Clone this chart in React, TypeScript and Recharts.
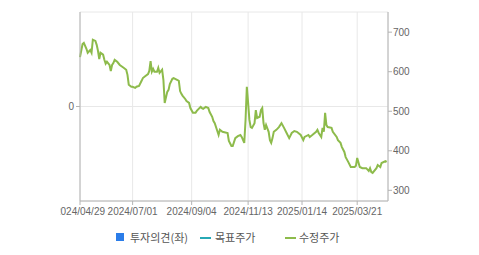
import React from "react";
import { ComposedChart, Line, Bar, XAxis, YAxis, CartesianGrid } from "recharts";

// trading-day index since 2024/04/29 and adjusted close (수정주가)
const tradingDay = [
  0, 2, 3, 5, 6, 8, 9, 10, 12, 13, 14, 15, 16, 18, 19, 20, 21, 23, 24, 25, 26, 27, 29, 31, 34, 36, 37, 38, 40, 41,
  43, 44, 46, 48, 49, 51, 53, 54, 55, 56, 57, 58, 60, 61, 62, 64, 65, 66, 68, 69, 70, 72, 73, 76, 77, 78, 79, 80, 82, 83,
  85, 86, 88, 90, 91, 94, 95, 96, 98, 100, 101, 103, 104, 105, 107, 108, 109, 111, 115, 116, 118, 119, 121, 123, 125, 126, 128, 129, 130, 131,
  132, 133, 134, 136, 137, 138, 140, 141, 142, 143, 144, 145, 147, 148, 149, 150, 151, 153, 155, 157, 159, 161, 163, 165, 167, 169, 172, 174, 175, 178,
  179, 181, 184, 185, 186, 188, 189, 190, 191, 192, 193, 196, 197, 200, 201, 203, 204, 206, 207, 209, 211, 214, 215, 216, 218, 220, 223, 225, 226, 227,
  228, 231, 232, 234, 235, 238, 239,
];

const adjPrice = [
  637, 670, 673, 658, 648, 655, 648, 681, 678, 668, 653, 632, 648, 643, 630, 620, 625, 617, 602, 617, 622, 630, 625, 617, 610, 605, 592, 567, 562, 562,
  559, 562, 564, 577, 584, 589, 594, 602, 627, 600, 607, 600, 600, 610, 597, 605, 579, 521, 549, 554, 569, 582, 584, 579, 577, 551, 544, 539, 531, 526,
  521, 508, 496, 496, 501, 511, 508, 506, 511, 508, 498, 486, 475, 470, 450, 440, 453, 448, 445, 425, 412, 412, 432, 437, 440, 435, 420, 478, 562, 521,
  478, 460, 458, 470, 503, 483, 486, 503, 508, 470, 453, 465, 448, 427, 420, 432, 448, 453, 460, 470, 458, 445, 432, 445, 450, 448, 440, 427, 435, 440,
  435, 440, 448, 453, 445, 435, 458, 448, 496, 465, 460, 458, 448, 435, 427, 420, 410, 397, 384, 372, 359, 359, 362, 382, 359, 356, 356, 349, 356, 346,
  344, 356, 364, 359, 369, 374, 372,
];

const tickDays = [0, 41, 87, 131, 173, 216];
const tickLabels = ["2024/04/29", "2024/07/01", "2024/09/04", "2024/11/13", "2025/01/14", "2025/03/21"];
const priceTicks = [300, 400, 500, 600, 700];
const opinionTicks = [0];

const axisColor = "#b4b4b4";
const tickText = { fontSize: 10, fill: "#666", fontFamily: "Liberation Sans, Arial, sans-serif" };

export default function App() {
  // 투자의견 and 목표주가 carry no values in this period
  const rows = tradingDay.map((d, i) => ({ d, price: adjPrice[i], opinion: null, target: null }));
  const label = (v: number) => tickLabels[tickDays.indexOf(v)] ?? "";

  return (
    <div style={{ position: "absolute", left: 0, top: 0, width: 479, height: 255, background: "#fff" }}>
      <div style={{ clipPath: "inset(0 0 0 60px)" }}>
        <ComposedChart width={479} height={255} data={rows} margin={{ top: 12, right: 0, bottom: 29, left: 0 }}>
          <CartesianGrid yAxisId="left" stroke="#e8e8e8" />
          <XAxis
            xAxisId="top"
            orientation="top"
            type="number"
            dataKey="d"
            domain={[0, 240]}
            height={0}
            tick={false}
            tickLine={false}
            axisLine={{ stroke: axisColor }}
          />
          <XAxis
            type="number"
            dataKey="d"
            domain={[0, 240]}
            ticks={tickDays}
            interval={0}
            tickFormatter={label}
            height={25}
            tickSize={4}
            tickMargin={3}
            tick={tickText}
            axisLine={{ stroke: axisColor }}
            tickLine={{ stroke: axisColor }}
          />
          <YAxis
            yAxisId="left"
            type="number"
            domain={[-1, 1]}
            allowDataOverflow
            ticks={opinionTicks}
            interval={0}
            width={80}
            tickSize={4}
            tickMargin={2}
            tick={tickText}
            axisLine={{ stroke: axisColor }}
            tickLine={{ stroke: axisColor }}
          />
          <YAxis
            yAxisId="right"
            orientation="right"
            domain={[273, 751]}
            allowDataOverflow
            ticks={priceTicks}
            interval={0}
            width={91}
            tickSize={4}
            tickMargin={1}
            tick={tickText}
            axisLine={{ stroke: axisColor }}
            tickLine={{ stroke: axisColor }}
          />
          <Bar yAxisId="left" dataKey="opinion" fill="#2b7de9" isAnimationActive={false} />
          <Line
            yAxisId="right"
            dataKey="target"
            stroke="#27a9b5"
            strokeWidth={2}
            dot={false}
            isAnimationActive={false}
          />
          <Line
            yAxisId="right"
            dataKey="price"
            stroke="#8dbb4b"
            strokeWidth={2}
            dot={false}
            isAnimationActive={false}
          />
        </ComposedChart>
      </div>

      <div
        style={{
          position: "absolute",
          top: 229,
          left: 0,
          width: 479,
          height: 16,
          fontFamily: "'Noto Sans CJK KR', sans-serif",
          fontSize: 11,
          color: "#555",
        }}
      >
        <span style={{ position: "absolute", left: 116, top: 4, width: 8, height: 8, background: "#2b7de9" }} />
        <span style={{ position: "absolute", left: 130, top: 0, lineHeight: "16px" }}>투자의견(좌)</span>
        <span style={{ position: "absolute", left: 200, top: 8, width: 11, height: 2, background: "#27a9b5" }} />
        <span style={{ position: "absolute", left: 215, top: 0, lineHeight: "16px" }}>목표주가</span>
        <span style={{ position: "absolute", left: 285, top: 8, width: 11, height: 2, background: "#8dbb4b" }} />
        <span style={{ position: "absolute", left: 299, top: 0, lineHeight: "16px" }}>수정주가</span>
      </div>
    </div>
  );
}
